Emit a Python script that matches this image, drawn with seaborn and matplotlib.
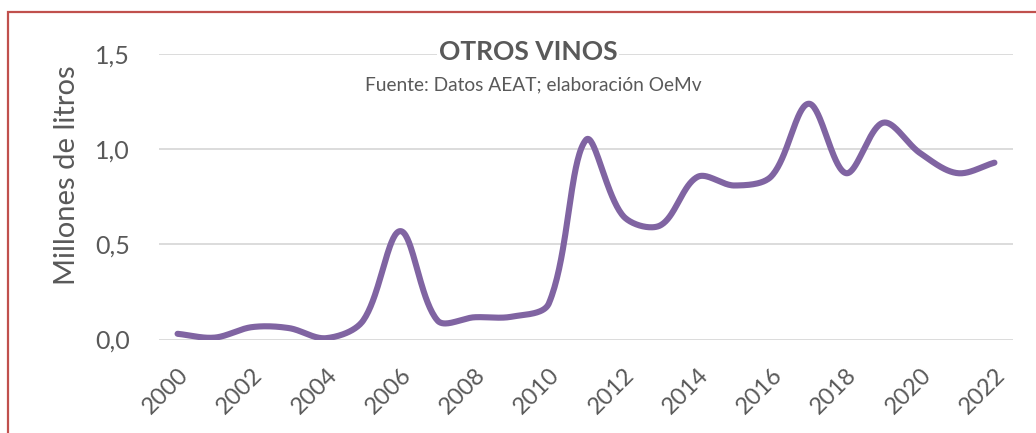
import numpy as np
import pandas as pd
import matplotlib.pyplot as plt
import matplotlib.transforms as mtransforms
import seaborn as sns
from matplotlib.patches import Rectangle
from matplotlib.ticker import FuncFormatter

years = list(range(2000, 2023))
values = [0.03, 0.01, 0.065, 0.06, 0.007, 0.10, 0.57, 0.10, 0.117, 0.12, 0.19,
          1.05, 0.65, 0.60, 0.855, 0.81, 0.86, 1.24, 0.875, 1.14, 0.98, 0.875, 0.93]
tick_years = list(range(2000, 2023, 2))

title = "OTROS VINOS"
subtitle = "Fuente: Datos AEAT; elaboración OeMv"
ylabel = "Millones de litros"

sns.set_style("white")
plt.rcParams["font.family"] = ["Lato", "DejaVu Sans"]
grey = "#595959"

# smoothed line like Excel: cubic Bezier, tangents weighted by segment length
# (lengths measured in screen pixels: ~37.1 px per year, 190 px per unit)
sx, sy = 37.13, 190.0
x = np.array(years, dtype=float)
y = np.array(values, dtype=float)
P = np.column_stack([x * sx, y * sy])
n = len(P)
t = np.linspace(0, 1, 40)
xs, ys = [], []
for i in range(n - 1):
    p0, p1 = P[i], P[i + 1]
    pm = P[i - 1] if i > 0 else p0
    pn = P[i + 2] if i + 2 < n else p1
    d0 = np.linalg.norm(p0 - pm)
    d1 = np.linalg.norm(p1 - p0)
    d2 = np.linalg.norm(pn - p1)
    w0 = d1 / (d0 + d1) if d0 + d1 > 0 else 0
    w1 = d1 / (d1 + d2) if d1 + d2 > 0 else 0
    c1 = p0 + (p1 - pm) * w0 / 3
    c2 = p1 - (pn - p0) * w1 / 3
    b = ((1 - t) ** 3)[:, None] * p0 + (3 * (1 - t) ** 2 * t)[:, None] * c1 \
        + (3 * (1 - t) * t ** 2)[:, None] * c2 + (t ** 3)[:, None] * p1
    xs.extend(b[:, 0] / sx)
    ys.extend(b[:, 1] / sy)
curve = pd.DataFrame({"x": xs, "y": ys})

fig = plt.figure(figsize=(10.36, 4.33), dpi=100)
ax = fig.add_axes([159 / 1036, 1 - 339.5 / 433, (1013 - 159) / 1036, (339.5 - 54.3) / 433])
sns.lineplot(data=curve, x="x", y="y", color="#8064A2", lw=4.4, sort=False,
             estimator=None, ax=ax, solid_capstyle="round")

ax.set_xlim(1999.5, 2022.5)
ax.set_ylim(0, 1.5)
ax.set_yticks([0, 0.5, 1.0, 1.5])
ax.yaxis.set_major_formatter(FuncFormatter(lambda v, p: f"{v:.1f}".replace(".", ",")))
ax.set_xticks(tick_years)
ax.set_xticklabels([str(v) for v in tick_years], rotation=45, ha="right",
                   rotation_mode="anchor")
shift = mtransforms.ScaledTranslation(5 / 100, 0, fig.dpi_scale_trans)
for lab in ax.get_xticklabels():
    lab.set_transform(lab.get_transform() + shift)
ax.grid(axis="y", color="#D9D9D9", lw=1.3)
ax.set_axisbelow(True)
for s in ax.spines.values():
    s.set_visible(False)
ax.tick_params(axis="y", length=0, pad=21, labelsize=18, labelcolor=grey)
ax.tick_params(axis="x", length=0, pad=18, labelsize=17, labelcolor=grey)
ax.set_xlabel("")
ax.set_ylabel("")

fig.text(67 / 1036, 1 - 175 / 433, ylabel, rotation=90, ha="center", va="center",
         fontsize=21, color=grey)
fig.text(528 / 1036, 1 - 52 / 433, title, ha="center", va="center", fontsize=19,
         fontweight="bold", color=grey,
         bbox=dict(facecolor="white", edgecolor="none", pad=1))
fig.text(533 / 1036, 1 - 85 / 433, subtitle, ha="center", va="center", fontsize=13.8,
         color=grey)

fig.add_artist(Rectangle((8 / 1036, -0.1), 1.2, 1.1 - 12 / 433, transform=fig.transFigure,
                         fill=False, edgecolor="#C0504D", lw=1.6))

fig.savefig("out.png", dpi=100)
